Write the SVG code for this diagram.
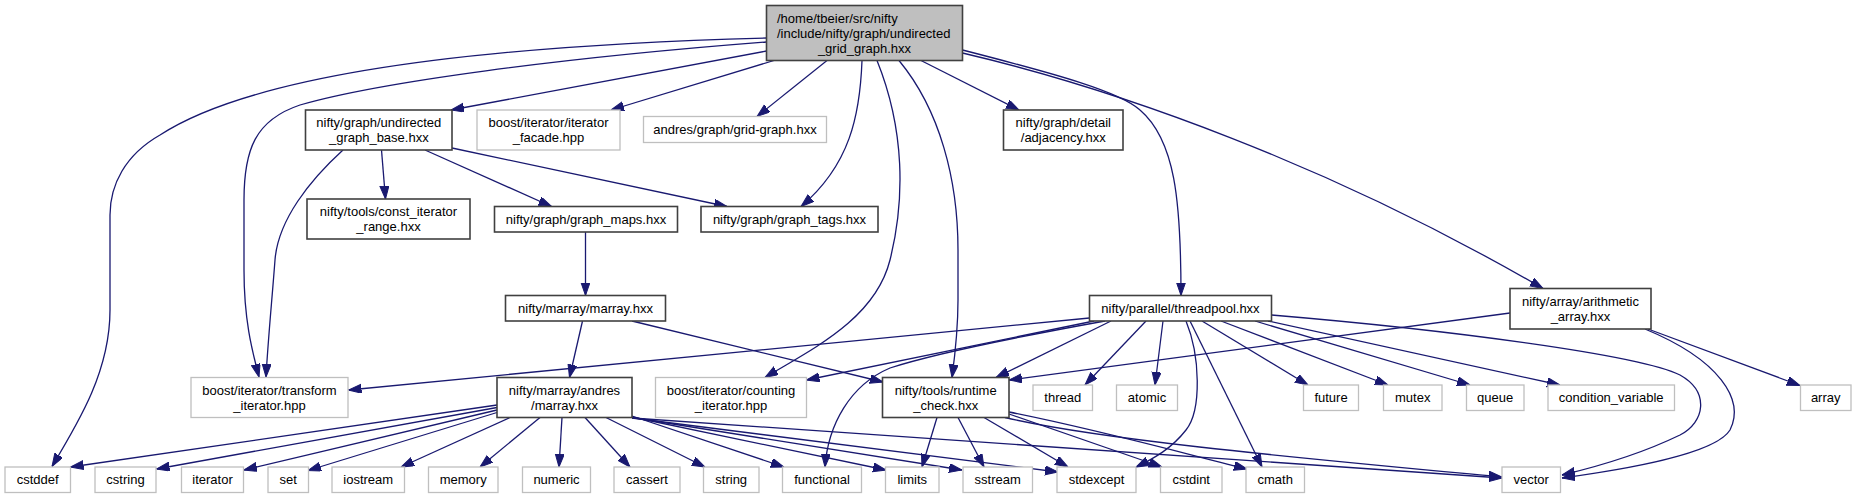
<svg xmlns="http://www.w3.org/2000/svg" width="1857" height="499" viewBox="0 0 1857 499">
<style>
rect{fill:#fff;stroke-width:1.3}
.d rect{stroke:#404040;stroke-width:1.6}
.u rect{stroke:#bfbfbf}
#n0 rect{fill:#bfbfbf}
text{font-family:"Liberation Sans",Arial,Helvetica,sans-serif;font-size:13px;fill:#000;text-anchor:middle}
text.l{text-anchor:start}
#edges path{fill:none;stroke:#191970;stroke-width:1.3;marker-end:url(#ah)}
</style>
<defs>
<marker id="ah" markerWidth="13" markerHeight="10" refX="13" refY="4.5" orient="auto" markerUnits="userSpaceOnUse">
<path d="M0,0 L13,4.5 L0,9 z" fill="#191970" stroke="#191970" stroke-width="1"/>
</marker>
</defs>
<rect x="0" y="0" width="1857" height="499" style="fill:#fff;stroke:none"/>
<g id="edges">
<path d="M766.5,38 C 500,45 260,70 160,135 C 125,155 110,185 110,215 L110,310 C110,370 80,420 52,466.5"/>
<path d="M766.5,42 C 560,58 380,82 300,105 C 255,120 244,150 244,200 L244,270 C 244,320 252,350 259,377"/>
<path d="M766.5,51 L451,110"/>
<path d="M774,60.5 L611,110"/>
<path d="M827,60.5 L757,116.5"/>
<path d="M862,60.5 C 860,115 850,165 801,206.5"/>
<path d="M877,60.5 C 905,130 905,200 890,260 C 875,320 810,350 765,377.5"/>
<path d="M899,60.5 C 940,110 958,180 958,250 L958,300 C 958,330 955,355 952,377.5"/>
<path d="M921,60.5 L1019,110"/>
<path d="M962.5,50 C 1060,75 1120,92 1140,110 C 1175,140 1181,200 1181,295.5"/>
<path d="M962.5,53 C 1120,90 1330,165 1543,288.5"/>
<path d="M343,150 C 310,180 278,220 275,260 C 272,300 268,340 266,377"/>
<path d="M381.5,150 L385.5,199"/>
<path d="M425,150 L551.5,206.5"/>
<path d="M452,148 L727,206.5"/>
<path d="M585.5,232 L585.5,295.5"/>
<path d="M582.5,321 L569.5,377.5"/>
<path d="M632,321 L883,382"/>
<path d="M1089.5,318 L348.5,390"/>
<path d="M1094,321 L806.5,380"/>
<path d="M1105,321 C 1000,340 930,355 890,368 C 850,385 828,425 825,467"/>
<path d="M1111,321 L996,377.5"/>
<path d="M1146,321 L1085,385"/>
<path d="M1163,321 L1155,385"/>
<path d="M1186,321 C 1200,355 1202,410 1186,430 C 1172,448 1155,458 1136,467"/>
<path d="M1190,321 L1262,467"/>
<path d="M1202,321 L1308,385"/>
<path d="M1221,321 L1388,385"/>
<path d="M1255,321 L1470,385"/>
<path d="M1268,321 L1560,385"/>
<path d="M1271.5,315 C 1450,330 1640,355 1680,375 C 1710,392 1705,422 1680,435 C 1645,452 1600,466 1562,475"/>
<path d="M1510,313 L1009,380"/>
<path d="M1645,329 C 1720,360 1745,400 1730,430 C 1715,455 1620,470 1562,478"/>
<path d="M1648,329 L1800,385.5"/>
<path d="M497,405 L70.5,467"/>
<path d="M497,407.5 L156.5,469"/>
<path d="M497,410 L244,470"/>
<path d="M497,412.5 L308,470.5"/>
<path d="M510,417.5 L401,467"/>
<path d="M540,417.5 L480,467"/>
<path d="M562,417.5 L559,467"/>
<path d="M585,417.5 L630,467"/>
<path d="M606,417.5 L705,467"/>
<path d="M632,416 L784,467"/>
<path d="M632,417 L886,470"/>
<path d="M632,417.5 L962,470"/>
<path d="M632,418 L1058,472"/>
<path d="M632,418 L1502,478"/>
<path d="M937,417.5 L922,467"/>
<path d="M958,417.5 L984,467"/>
<path d="M984,417.5 L1068,467"/>
<path d="M1009,414 L1162,467"/>
<path d="M1009,412 C 1100,430 1190,455 1247,469"/>
<path d="M1005,417.5 C 1100,440 1300,458 1502,477"/>
</g>
<g id="n0" class="d"><rect x="766.5" y="5.5" width="196" height="55"/><text class="l" x="777" y="22.7">/home/tbeier/src/nifty</text><text class="l" x="777" y="37.7">/include/nifty/graph/undirected</text><text x="864.5" y="52.7">_grid_graph.hxx</text></g>
<g id="n1" class="d"><rect x="305.5" y="110" width="146.5" height="40"/><text x="378.8" y="127">nifty/graph/undirected</text><text x="378.8" y="142">_graph_base.hxx</text></g>
<g id="n2" class="u"><rect x="477" y="110" width="143" height="40"/><text x="548.5" y="127">boost/iterator/iterator</text><text x="548.5" y="142">_facade.hpp</text></g>
<g id="n3" class="u"><rect x="643.5" y="116.5" width="183" height="26"/><text x="735" y="134">andres/graph/grid-graph.hxx</text></g>
<g id="n4" class="d"><rect x="1003.5" y="110" width="119.5" height="40"/><text x="1063.3" y="127">nifty/graph/detail</text><text x="1063.3" y="142">/adjacency.hxx</text></g>
<g id="n5" class="d"><rect x="307" y="199" width="163" height="40"/><text x="388.5" y="216">nifty/tools/const_iterator</text><text x="388.5" y="231">_range.hxx</text></g>
<g id="n6" class="d"><rect x="494.5" y="206.5" width="183" height="25.5"/><text x="586" y="223.7">nifty/graph/graph_maps.hxx</text></g>
<g id="n7" class="d"><rect x="701" y="206.5" width="177" height="25.5"/><text x="789.5" y="223.7">nifty/graph/graph_tags.hxx</text></g>
<g id="n8" class="d"><rect x="505.5" y="295.5" width="160" height="25.5"/><text x="585.5" y="312.7">nifty/marray/marray.hxx</text></g>
<g id="n9" class="d"><rect x="1089.5" y="295.5" width="182" height="25.5"/><text x="1180.5" y="312.7">nifty/parallel/threadpool.hxx</text></g>
<g id="n10" class="d"><rect x="1510" y="288.5" width="141" height="40.5"/><text x="1580.5" y="305.7">nifty/array/arithmetic</text><text x="1580.5" y="320.7">_array.hxx</text></g>
<g id="n11" class="u"><rect x="191" y="377.5" width="157" height="40"/><text x="269.5" y="394.5">boost/iterator/transform</text><text x="269.5" y="409.5">_iterator.hpp</text></g>
<g id="n12" class="d"><rect x="497" y="377.5" width="135" height="40"/><text x="564.5" y="394.5">nifty/marray/andres</text><text x="564.5" y="409.5">/marray.hxx</text></g>
<g id="n13" class="u"><rect x="655.5" y="377.5" width="151" height="40"/><text x="731" y="394.5">boost/iterator/counting</text><text x="731" y="409.5">_iterator.hpp</text></g>
<g id="n14" class="d"><rect x="882.5" y="377.5" width="126.5" height="40"/><text x="945.7" y="394.5">nifty/tools/runtime</text><text x="945.7" y="409.5">_check.hxx</text></g>
<g id="n15" class="u"><rect x="1033" y="385" width="59.5" height="25.5"/><text x="1062.8" y="402.3">thread</text></g>
<g id="n16" class="u"><rect x="1116.5" y="385" width="61" height="25.5"/><text x="1147" y="402.3">atomic</text></g>
<g id="n17" class="u"><rect x="1303.5" y="385" width="55" height="25.5"/><text x="1331" y="402.3">future</text></g>
<g id="n18" class="u"><rect x="1383.5" y="385" width="58.5" height="25.5"/><text x="1412.7" y="402.3">mutex</text></g>
<g id="n19" class="u"><rect x="1466.5" y="385" width="57.5" height="25.5"/><text x="1495.2" y="402.3">queue</text></g>
<g id="n20" class="u"><rect x="1548" y="385" width="126.5" height="25.5"/><text x="1611.2" y="402.3">condition_variable</text></g>
<g id="n21" class="u"><rect x="1800.5" y="385" width="50.5" height="25.5"/><text x="1825.7" y="402.3">array</text></g>
<g id="n22" class="u"><rect x="5" y="467" width="65.5" height="25.5"/><text x="37.7" y="484.3">cstddef</text></g>
<g id="n23" class="u"><rect x="95" y="467" width="61" height="25.5"/><text x="125.5" y="484.3">cstring</text></g>
<g id="n24" class="u"><rect x="181.5" y="467" width="62" height="25.5"/><text x="212.5" y="484.3">iterator</text></g>
<g id="n25" class="u"><rect x="268" y="467" width="40.5" height="25.5"/><text x="288.2" y="484.3">set</text></g>
<g id="n26" class="u"><rect x="332" y="467" width="72.5" height="25.5"/><text x="368.2" y="484.3">iostream</text></g>
<g id="n27" class="u"><rect x="428.5" y="467" width="69.5" height="25.5"/><text x="463.2" y="484.3">memory</text></g>
<g id="n28" class="u"><rect x="522.5" y="467" width="68" height="25.5"/><text x="556.5" y="484.3">numeric</text></g>
<g id="n29" class="u"><rect x="614" y="467" width="66" height="25.5"/><text x="647" y="484.3">cassert</text></g>
<g id="n30" class="u"><rect x="703.5" y="467" width="55.5" height="25.5"/><text x="731.2" y="484.3">string</text></g>
<g id="n31" class="u"><rect x="782.5" y="467" width="79" height="25.5"/><text x="822" y="484.3">functional</text></g>
<g id="n32" class="u"><rect x="885.5" y="467" width="53.5" height="25.5"/><text x="912.2" y="484.3">limits</text></g>
<g id="n33" class="u"><rect x="963" y="467" width="69.5" height="25.5"/><text x="997.7" y="484.3">sstream</text></g>
<g id="n34" class="u"><rect x="1057" y="467" width="79" height="25.5"/><text x="1096.5" y="484.3">stdexcept</text></g>
<g id="n35" class="u"><rect x="1160.5" y="467" width="61.5" height="25.5"/><text x="1191.2" y="484.3">cstdint</text></g>
<g id="n36" class="u"><rect x="1246" y="467" width="58.5" height="25.5"/><text x="1275.2" y="484.3">cmath</text></g>
<g id="n37" class="u"><rect x="1502" y="467" width="58.5" height="25.5"/><text x="1531.2" y="484.3">vector</text></g>
</svg>
